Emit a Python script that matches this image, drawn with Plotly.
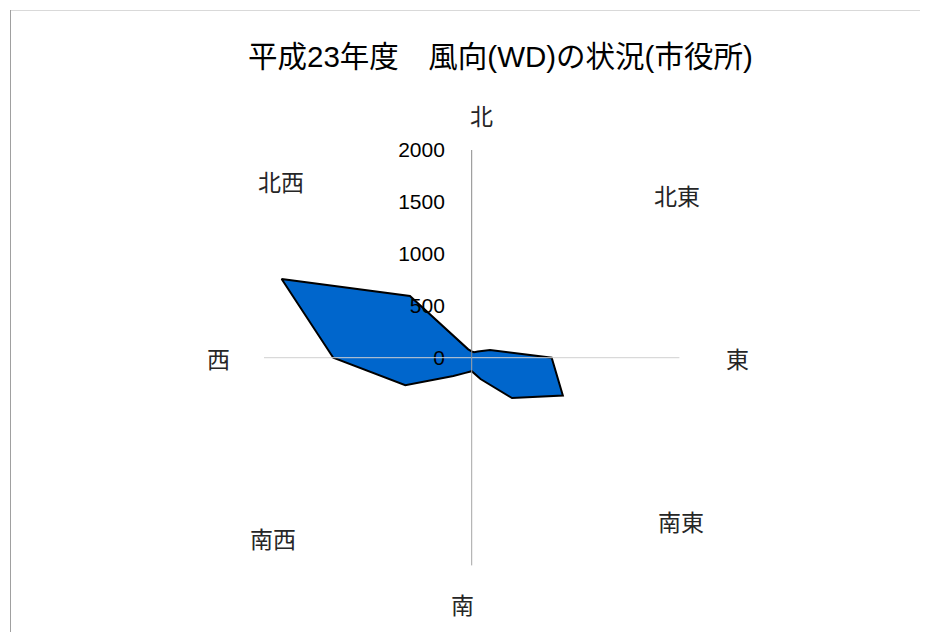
import plotly.graph_objects as go

W, H = 928, 632
OFF = 8  # browser default body margin
FW, FH = W - OFF, H - OFF

# 16 wind directions (degrees clockwise from north) and counts
directions = ["北", "北北東", "北東", "東北東", "東", "東南東", "南東", "南南東",
              "南", "南南西", "南西", "西南西", "西", "西北西", "北西", "北北西"]
theta_deg = [0, 22.5, 45, 67.5, 90, 112.5, 135, 157.5,
             180, 202.5, 225, 247.5, 270, 292.5, 315, 337.5]
counts = [60, 58, 83, 191, 770, 950, 549, 222,
          130, 158, 250, 692, 1333, 1981, 841, 87]

radial_ticks = [0, 500, 1000, 1500, 2000]
label_text = ["北", "北東", "東", "南東", "南", "南西", "西", "北西"]
# label centre positions in page pixels
label_px = [(481, 115), (677, 195), (737, 358), (681, 521),
            (462, 604), (273, 538), (218, 358), (281, 181)]

title = "平成23年度　風向(WD)の状況(市役所)"

cx, cy, R = 471.7, 357.7, 207.7


def px(x):
    return (x - OFF) / FW


def py(y):
    return 1 - (y - OFF) / FH


dom = dict(x=[px(cx - R), px(cx + R)], y=[py(cy + R), py(cy - R)])

fig = go.Figure()
fig.add_trace(go.Scatterpolar(
    r=counts + counts[:1],
    theta=theta_deg + theta_deg[:1],
    mode="lines",
    fill="toself",
    fillcolor="#0066cc",
    line=dict(color="black", width=2),
    hoverinfo="skip",
    showlegend=False,
    subplot="polar",
))
# empty traces so the overlay axes (spokes drawn above the fill) render
fig.add_trace(go.Scatterpolar(r=[], theta=[], subplot="polar2",
                              showlegend=False, hoverinfo="skip"))
fig.add_trace(go.Scatterpolar(r=[], theta=[], subplot="polar3",
                              showlegend=False, hoverinfo="skip"))

FONT = "Liberation Sans, Noto Sans CJK JP, sans-serif"

fig.update_layout(
    width=FW, height=FH,
    margin=dict(l=0, r=0, t=0, b=0),
    paper_bgcolor="white",
    plot_bgcolor="white",
    font=dict(family=FONT, color="black"),
    showlegend=False,
    polar=dict(
        domain=dom,
        bgcolor="white",
        angularaxis=dict(
            thetaunit="degrees", rotation=90, direction="clockwise",
            showticklabels=False, ticks="", showline=False, showgrid=False,
        ),
        radialaxis=dict(
            range=[0, 2000],
            tickmode="array",
            tickvals=radial_ticks,
            ticktext=[str(v) for v in radial_ticks],
            angle=90,
            side="counterclockwise",
            showgrid=False,
            showline=False,
            ticks="outside",
            ticklen=19,
            tickcolor="rgba(0,0,0,0)",
            tickfont=dict(size=21, family=FONT, color="black"),
            tickangle=90,
        ),
    ),
    polar2=dict(
        domain=dom,
        bgcolor="rgba(0,0,0,0)",
        angularaxis=dict(
            thetaunit="degrees", rotation=90, direction="clockwise",
            tickmode="array", tickvals=[90, 270],
            showticklabels=False, ticks="", showline=False,
            showgrid=True, gridcolor="#d0d0d0", gridwidth=1,
        ),
        radialaxis=dict(
            range=[0, 2000], angle=90, showgrid=False, showline=True,
            linecolor="#8a8a8a", linewidth=1, showticklabels=False, ticks="",
        ),
    ),
    polar3=dict(
        domain=dom,
        bgcolor="rgba(0,0,0,0)",
        angularaxis=dict(visible=False, thetaunit="degrees", rotation=90,
                         direction="clockwise"),
        radialaxis=dict(range=[0, 2000], angle=270, showgrid=False,
                        showline=True, linecolor="#a6a6a6", linewidth=1,
                        showticklabels=False, ticks=""),
    ),
)

annotations = []
for txt, (x, y) in zip(label_text, label_px):
    annotations.append(dict(
        text=txt, x=px(x), y=py(y), xref="paper", yref="paper",
        showarrow=False, xanchor="center", yanchor="middle",
        font=dict(size=23, family="Noto Sans CJK JP, sans-serif", color="#262626"),
    ))
annotations.append(dict(
    text=title, x=px(500), y=py(57), xref="paper", yref="paper",
    showarrow=False, xanchor="center", yanchor="middle",
    font=dict(size=29.5, family=FONT, color="black"),
))
fig.update_layout(annotations=annotations)

# chart border (top and left visible)
fig.add_shape(type="line", xref="paper", yref="paper",
              x0=px(10), x1=1.05, y0=py(10.5), y1=py(10.5),
              line=dict(color="#d9d9d9", width=1))
fig.add_shape(type="line", xref="paper", yref="paper",
              x0=px(10.5), x1=px(10.5), y0=py(10), y1=-0.05,
              line=dict(color="#a0a0a0", width=1))

fig.write_html("out.html")
